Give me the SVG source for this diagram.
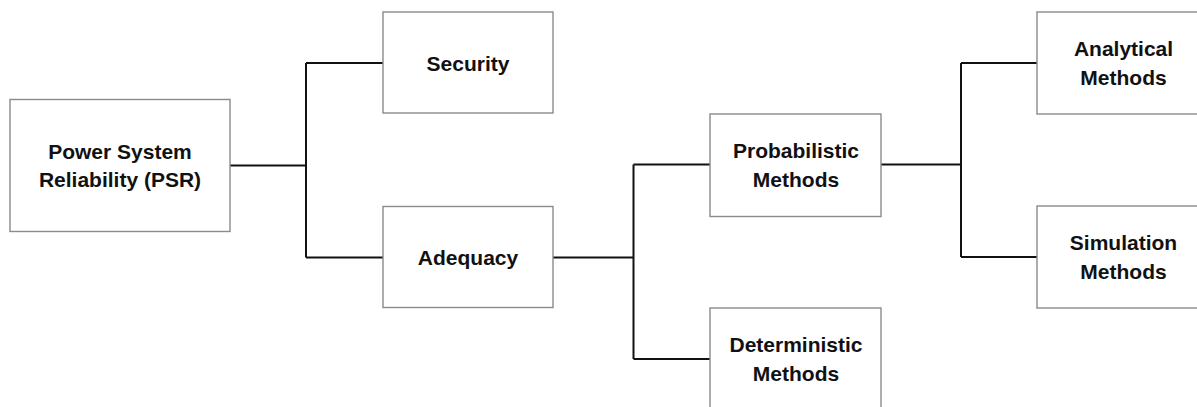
<svg xmlns="http://www.w3.org/2000/svg" width="1197" height="407" viewBox="0 0 1197 407">
  <style>
    .box { fill: #ffffff; stroke: #8a8a8a; stroke-width: 1.4; }
    .lbl { font-family: "Liberation Sans", Arial, sans-serif; font-weight: bold; font-size: 21px; fill: #111111; text-anchor: middle; }
    .wire { fill: none; stroke: #111111; stroke-width: 2; }
  </style>
  <rect width="1197" height="407" fill="#ffffff"/>

  <!-- tree connectors -->
  <g id="connectors">
    <path class="wire" d="M230,165.5 H306 M306,63 V257.5 M306,63 H383 M306,257.5 H383"/>
    <path class="wire" d="M553,257.5 H633.5 M633.5,164.5 V359 M633.5,164.5 H710 M633.5,359 H710"/>
    <path class="wire" d="M881,164.5 H961 M961,63 V257 M961,63 H1037 M961,257 H1037"/>
  </g>

  <g id="psr">
    <rect class="box" x="10" y="99.5" width="220" height="132"/>
    <text class="lbl" x="120" y="158.5">Power System</text>
    <text class="lbl" x="120" y="187">Reliability (PSR)</text>
  </g>

  <g id="security">
    <rect class="box" x="383" y="12" width="170" height="101"/>
    <text class="lbl" x="468" y="70.5">Security</text>
  </g>

  <g id="adequacy">
    <rect class="box" x="383" y="206.5" width="170" height="101"/>
    <text class="lbl" x="468" y="265">Adequacy</text>
  </g>

  <g id="probabilistic">
    <rect class="box" x="710" y="114" width="171" height="102.5"/>
    <text class="lbl" x="796" y="157.5">Probabilistic</text>
    <text class="lbl" x="796" y="187">Methods</text>
  </g>

  <g id="deterministic">
    <rect class="box" x="710" y="308" width="171" height="102"/>
    <text class="lbl" x="796" y="351.5">Deterministic</text>
    <text class="lbl" x="796" y="381">Methods</text>
  </g>

  <g id="analytical">
    <rect class="box" x="1037" y="12" width="171" height="102"/>
    <text class="lbl" x="1123.5" y="55.5">Analytical</text>
    <text class="lbl" x="1123.5" y="85">Methods</text>
  </g>

  <g id="simulation">
    <rect class="box" x="1037" y="206" width="171" height="102"/>
    <text class="lbl" x="1123.5" y="249.5">Simulation</text>
    <text class="lbl" x="1123.5" y="279">Methods</text>
  </g>
</svg>
